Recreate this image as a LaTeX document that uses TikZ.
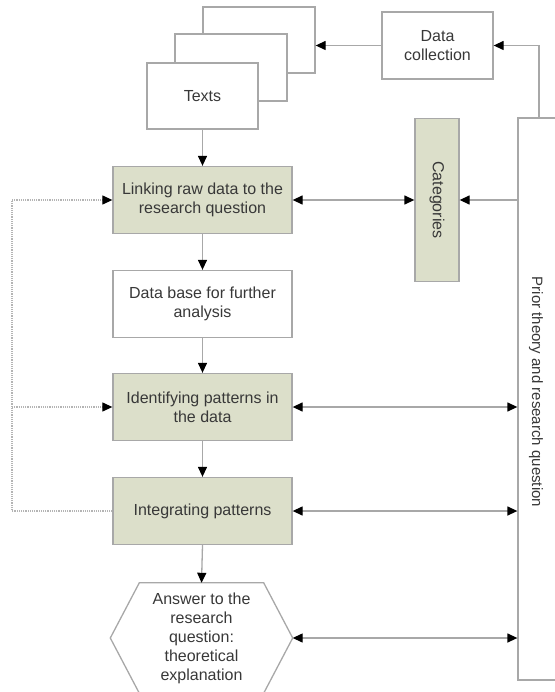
\documentclass[tikz,border=0pt]{standalone}
\usepackage{fontspec}
\setmainfont{Liberation Sans}
\usetikzlibrary{arrows.meta}
\definecolor{boxfill}{HTML}{DCDFCA}
\definecolor{linec}{HTML}{A8A8A8}
\definecolor{dotc}{HTML}{B4B4B4}
\definecolor{txt}{HTML}{383838}
\begin{document}
\begin{tikzpicture}[x=1pt,y=-1pt,
  box/.style={draw=linec, line width=1.3pt, fill=white, minimum width=179pt,
    minimum height=67pt, align=center, text=txt, inner sep=0pt,
    font=\fontsize{16}{19}\selectfont},
  gbox/.style={box, fill=boxfill},
  lbl/.style={text=txt, inner sep=0pt, font=\fontsize{16}{19}\selectfont},
  conn/.style={draw=linec, line width=1.3pt},
  dots/.style={draw=dotc, line width=1.2pt, densely dotted},
  tip/.style={-{Triangle[length=10pt,width=9pt,color=black]}},
  tips/.style={{Triangle[length=10pt,width=9pt,color=black]}-{Triangle[length=10pt,width=9pt,color=black]}}
]
\useasboundingbox (0,0) rectangle (554,692);
% stacked text documents
\node[box, minimum width=112pt, minimum height=66pt] (back) at (259,40) {};
\node[box, minimum width=112pt, minimum height=67pt] (mid) at (231,67.5) {};
\node[box, minimum width=111pt, minimum height=66pt] (texts) at (202.5,96) {Texts};
\node[box, minimum width=111pt, minimum height=67pt] (dc) at (437.5,45.5) {Data\\collection};
% prior theory
\node[box, minimum width=38pt, minimum height=562pt] (prior) at (537,399) {};
\node[lbl, rotate=-90, font=\fontsize{15}{18}\selectfont] (priortext) at (536,392) {Prior theory and research question};
% categories
\node[gbox, minimum width=44pt, minimum height=163pt] (cat) at (437,200) {};
\node[lbl, rotate=-90] (cattext) at (cat.center) {Categories};
% main column
\node[gbox] (link) at (202.5,200) {Linking raw data to the\\research question};
\node[box] (dbase) at (202.5,304) {Data base for further\\analysis};
\node[gbox] (ident) at (202.5,407) {Identifying patterns in\\the data};
\node[gbox] (integ) at (202.5,511) {Integrating patterns};
\node[lbl, minimum width=182pt, minimum height=110pt, align=center] (hex) at (201.5,638)
  {Answer to the\\research\\question:\\theoretical\\explanation};
\draw[draw=linec, line width=1.3pt] (hex.west) -- ([xshift=29pt]hex.north west)
  -- ([xshift=-29pt]hex.north east) -- (hex.east) -- ([xshift=-29pt]hex.south east)
  -- ([xshift=29pt]hex.south west) -- cycle;
% connectors
\coordinate (ptop) at (539,118);
\coordinate (fb) at (12,0);
\draw[conn,tip] (ptop) |- (dc.east);
\draw[conn,tip] (dc.west) -- (dc.west -| back.east);
\draw[conn,tip] (texts) -- (link);
\draw[conn,tip] (link) -- (dbase);
\draw[conn,tip] (dbase) -- (ident);
\draw[conn,tip] (ident) -- (integ);
\draw[conn,tip] (integ.south) -- (hex.north);
\draw[conn,tips] (link.east) -- (cat.west);
\draw[conn,tip] (prior.west |- cat.east) -- (cat.east);
\draw[conn,tips] (ident.east) -- (ident.east -| prior.west);
\draw[conn,tips] (integ.east) -- (integ.east -| prior.west);
\draw[conn,tips] (hex.east) -- (hex.east -| prior.west);
\draw[dots,tip] (integ.west) -- (fb |- integ.west) -- (fb |- link.west) -- (link.west);
\draw[dots,tip] (fb |- ident.west) -- (ident.west);
\end{tikzpicture}
\end{document}
